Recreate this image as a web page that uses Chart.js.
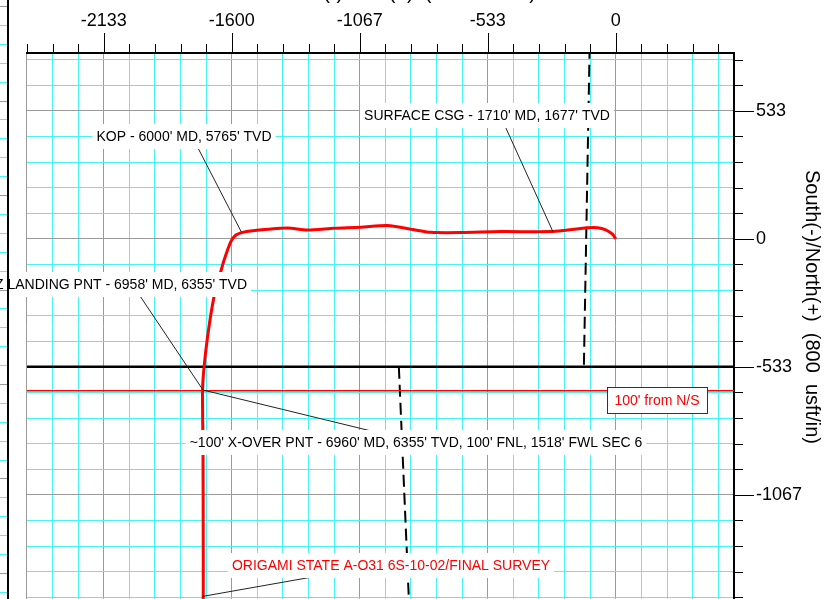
<!DOCTYPE html>
<html>
<head>
<meta charset="utf-8">
<script src="https://cdn.jsdelivr.net/npm/chart.js@4/dist/chart.umd.min.js"></script>
<style>
  html, body { margin: 0; padding: 0; background: #fff; overflow: hidden; }
  canvas { display: block; }
</style>
</head>
<body>
<canvas id="planChart" width="824" height="599"></canvas>
<script>
// plan view, usft. EW = West(-)/East(+), NS = South(-)/North(+)
const wellEW = [0, -14, -42, -76, -118, -201, -271, -479, -646, -771, -854, -951, -1063, -1174, -1285, -1368, -1451, -1514, -1555, -1583, -1604, -1632, -1646, -1674, -1701, -1718, -1722, -1720, -1719, -1719];
const wellNS = [0, 19, 37, 46, 46, 37, 30, 30, 26, 27, 40, 55, 48, 44, 37, 45, 40, 34, 27, 16, -12, -88, -137, -241, -408, -560, -644, -880, -1300, -1700];

const sectionEW = [-2460, 500];
const sectionNS = [-533.33, -533.33];
const hardlineEW = [-2460, 500];
const hardlineNS = [-633.33, -633.33];
const leaseNorthEW = [-109, -133];
const leaseNorthNS = [800, -533.33];
const leaseSouthEW = [-904, -858];
const leaseSouthNS = [-533.33, -1600];

const xMajorValues = [-2133.33, -1600, -1066.67, -533.33, 0];
const xMajorLabels = ['-2133', '-1600', '-1067', '-533', '0'];
const yMajorValues = [533.33, 0, -533.33, -1066.67];
const yMajorLabels = ['533', '0', '-533', '-1067'];

// annotation points on the plan (usft)
const noteText = [
  "SURFACE CSG - 1710' MD, 1677' TVD",
  "KOP - 6000' MD, 5765' TVD",
  "HZ LANDING PNT - 6958' MD, 6355' TVD",
  "~100' X-OVER PNT - 6960' MD, 6355' TVD, 100' FNL, 1518' FWL SEC 6",
  "ORIGAMI STATE A-O31 6S-10-02/FINAL SURVEY"
];
const noteEW = [-262, -1560, -1720, -1720, -1722];
const noteNS = [30, 28, -630, -630, -1490];

const X_MIN = -2453.33, X_MAX = 492.5, Y_MIN = -1500.8, Y_MAX = 774.2;
const GRID_STEP = 106.667, MAJOR_STEP = 533.333;
const FONT = "'Liberation Sans', Arial, sans-serif";

// label layout in pixels: text anchor, align, leader start
const noteLayout = [
  { x: 487, y: 115, align: 'center', color: '#000', lx: 505, ly: 126 },
  { x: 184, y: 136, align: 'center', color: '#000', lx: 198, ly: 148 },
  { x: 247, y: 284, align: 'right', color: '#000', lx: 138, ly: 293 },
  { x: 416, y: 442, align: 'center', color: '#000', lx: 400, ly: 438 },
  { x: 391, y: 565, align: 'center', color: '#ff0000', lx: 318, ly: 576 }
];

const toPoints = (xs, ys) => xs.map((v, i) => ({ x: v, y: ys[i] }));
const isMajor = v => Math.abs(v / MAJOR_STEP - Math.round(v / MAJOR_STEP)) < 1e-3;

function gridTicks(min, max) {
  const out = [];
  for (let k = Math.ceil(min / GRID_STEP - 1e-3); k * GRID_STEP <= max + 1e-3; k++) {
    out.push({ value: k * GRID_STEP });
  }
  return out;
}

function majorLabel(v, values, labels) {
  if (!isMajor(v)) return '';
  const i = values.findIndex(m => Math.abs(m - v) < 1);
  return i < 0 ? '' : labels[i];
}

const gridColor = ctx => {
  if (!ctx.tick) return '#47f4f4';
  if (ctx.index === 0 && ctx.scale.axis === 'x') return '#9a9a9a';
  return isMajor(ctx.tick.value) ? '#9a9a9a' : '#47f4f4';
};

const overlay = {
  id: 'overlay',
  afterDraw(chart) {
    const { ctx, chartArea: a, scales: { x, y } } = chart;
    const seg = (x1, y1, x2, y2) => { ctx.beginPath(); ctx.moveTo(x1, y1); ctx.lineTo(x2, y2); ctx.stroke(); };
    ctx.save();

    // axis tick marks
    ctx.strokeStyle = '#000';
    ctx.lineWidth = 1;
    x.ticks.forEach(t => {
      const px = Math.round(x.getPixelForValue(t.value)) + 0.5;
      seg(px, a.top, px, a.top - (isMajor(t.value) ? 20 : 9));
    });
    y.ticks.forEach(t => {
      const py = Math.round(y.getPixelForValue(t.value)) + 0.5;
      seg(a.right, py, a.right + (isMajor(t.value) ? 20 : 9), py);
    });

    // leader lines
    ctx.strokeStyle = '#222';
    noteLayout.forEach((n, i) => {
      seg(n.lx, n.ly, x.getPixelForValue(noteEW[i]), y.getPixelForValue(noteNS[i]));
    });

    // label boxes
    ctx.font = '14px ' + FONT;
    ctx.textBaseline = 'middle';
    noteLayout.forEach((n, i) => {
      const w = ctx.measureText(noteText[i]).width;
      const left = n.align === 'right' ? n.x - w : n.x - w / 2;
      ctx.fillStyle = '#fff';
      ctx.fillRect(left - 4, n.y - 12, w + 8, 25);
      ctx.fillStyle = n.color;
      ctx.textAlign = 'left';
      ctx.fillText(noteText[i], left, n.y + 1);
    });

    // hardline tag
    const tag = "100' from N/S";
    ctx.fillStyle = '#fff';
    ctx.fillRect(607, 387, 100, 26);
    ctx.strokeStyle = '#333';
    ctx.strokeRect(607.5, 387.5, 100, 26);
    ctx.fillStyle = '#ff0000';
    ctx.textAlign = 'center';
    ctx.fillText(tag, 657, 401);

    // edge of the neighbouring panel
    for (let k = 0; k < 32; k++) {
      const py = Math.round(6 + k * 18.9) + 0.5;
      ctx.strokeStyle = k % 5 === 0 ? '#9a9a9a' : '#47f4f4';
      seg(0, py, 7, py);
    }
    ctx.strokeStyle = '#000';
    ctx.lineWidth = 2;
    seg(8, 0, 8, 599);

    // axis titles
    ctx.fillStyle = '#000';
    ctx.font = '20px ' + FONT;
    ctx.textAlign = 'center';
    ctx.textBaseline = 'alphabetic';
    ctx.fillText('West(-)/East(+)  (800  usft/in)', 407, -1);
    ctx.translate(812, 307);
    ctx.rotate(Math.PI / 2);
    ctx.textBaseline = 'middle';
    ctx.fillText('South(-)/North(+)  (800  usft/in)', 0, 0);
    ctx.restore();
  }
};

const lineSet = (data, color, width, dash) => ({
  data, showLine: true, borderColor: color, backgroundColor: color,
  borderWidth: width, borderDash: dash || [], pointRadius: 0, tension: 0
});

const survey = lineSet(toPoints(wellEW, wellNS), '#ff0000', 3);
survey.tension = 0.25;

new Chart(document.getElementById('planChart'), {
  type: 'scatter',
  data: {
    datasets: [
      survey,
      lineSet(toPoints(sectionEW, sectionNS), '#000', 2.5),
      lineSet(toPoints(hardlineEW, hardlineNS), '#ff0000', 1.5),
      lineSet(toPoints(leaseNorthEW, leaseNorthNS), '#000', 2, [12, 6]),
      lineSet(toPoints(leaseSouthEW, leaseSouthNS), '#000', 2, [12, 6])
    ]
  },
  options: {
    responsive: false,
    animation: false,
    layout: { padding: { left: 27, top: 0, right: 0, bottom: 0 } },
    plugins: { legend: { display: false }, tooltip: { enabled: false } },
    scales: {
      x: {
        type: 'linear',
        position: 'top',
        min: X_MIN,
        max: X_MAX,
        afterBuildTicks: s => { s.ticks = gridTicks(X_MIN, X_MAX); },
        afterFit: s => { s.height = 53; s.paddingLeft = 0; s.paddingRight = 0; },
        grid: { color: gridColor, lineWidth: 1, drawTicks: true, tickLength: 20, tickColor: 'transparent' },
        border: { display: true, color: '#000', width: 2 },
        ticks: {
          autoSkip: false, maxRotation: 0, padding: 1, color: '#000',
          font: { family: FONT, size: 18 },
          callback: v => majorLabel(v, xMajorValues, xMajorLabels)
        }
      },
      y: {
        type: 'linear',
        position: 'right',
        min: Y_MIN,
        max: Y_MAX,
        afterBuildTicks: s => { s.ticks = gridTicks(Y_MIN, Y_MAX); },
        afterFit: s => { s.width = 90; s.paddingTop = 0; s.paddingBottom = 0; },
        grid: { color: gridColor, lineWidth: 1, drawTicks: true, tickLength: 20, tickColor: 'transparent' },
        border: { display: true, color: '#000', width: 2 },
        ticks: {
          autoSkip: false, padding: 2, color: '#000',
          font: { family: FONT, size: 18 },
          callback: v => majorLabel(v, yMajorValues, yMajorLabels)
        }
      }
    }
  },
  plugins: [overlay]
});
</script>
</body>
</html>
